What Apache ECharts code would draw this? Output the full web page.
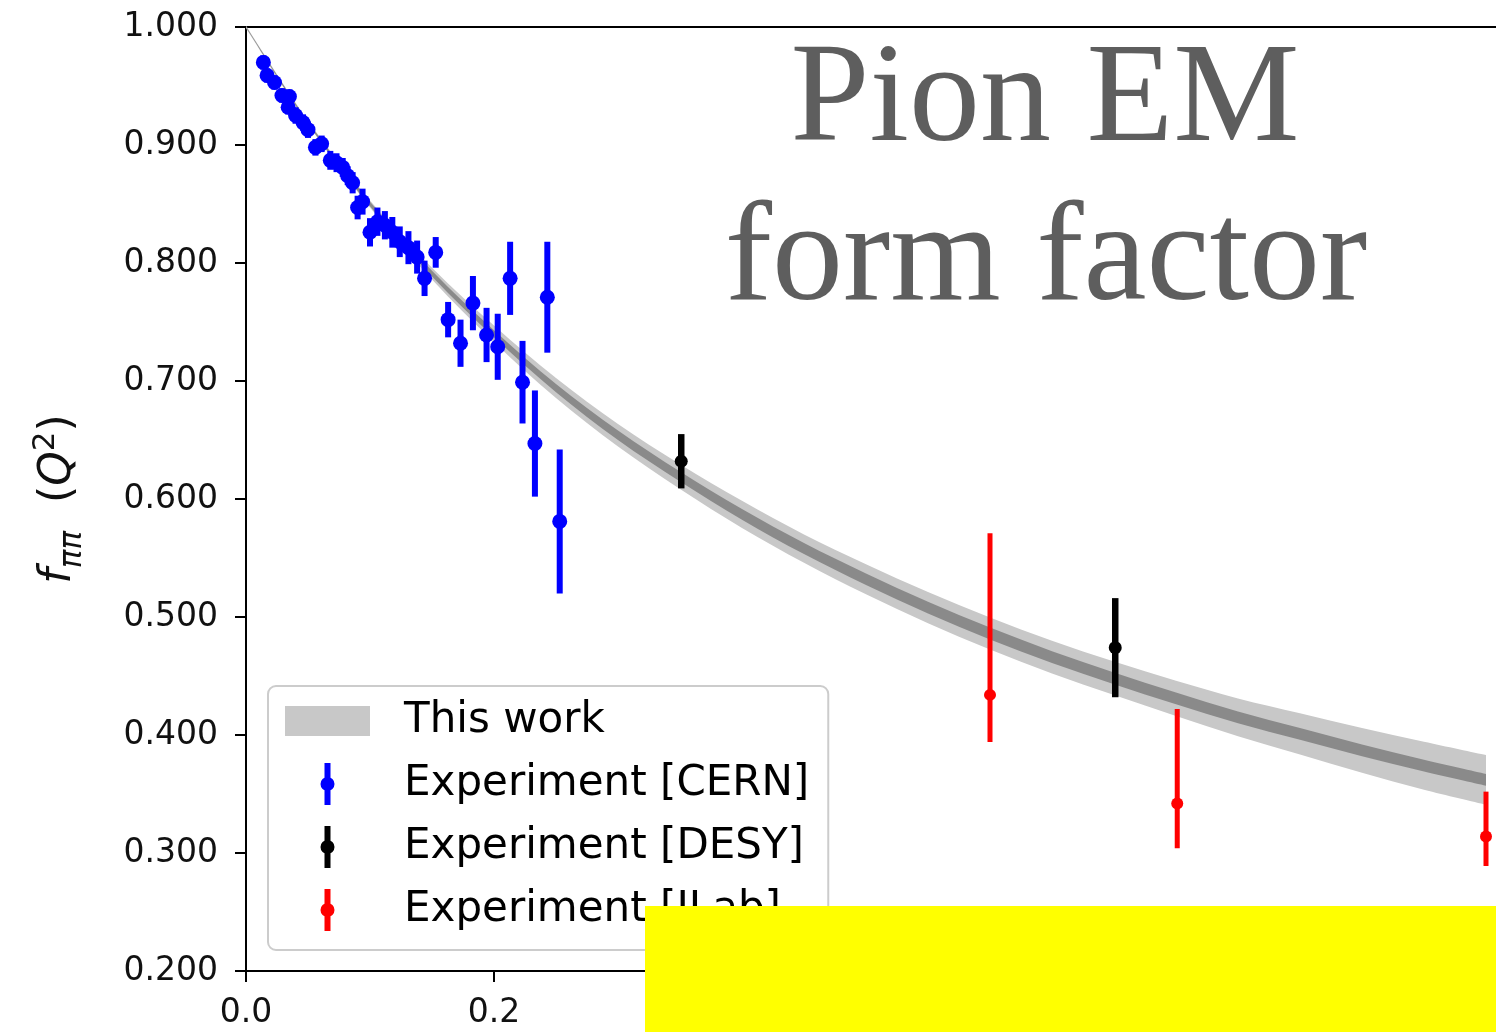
<!DOCTYPE html>
<html><head><meta charset="utf-8">
<script src="https://cdn.jsdelivr.net/npm/echarts@6/dist/echarts.min.js"></script>
<style>html,body{margin:0;padding:0;background:#fff}#chart{width:1496px;height:1032px}</style>
</head><body><div id="chart"></div>
<script>
// ---- Model curve ("This work") ----
const curveQ2 = [0, 0.05, 0.10, 0.15, 0.20, 0.25, 0.30, 0.35, 0.40, 0.45, 0.50, 0.55, 0.60, 0.65, 0.70, 0.75, 0.80, 0.85, 0.90, 0.95, 1.00];
const curveF  = [1.000, 0.919, 0.850, 0.791, 0.740, 0.694, 0.654, 0.619, 0.587, 0.558, 0.532, 0.508, 0.486, 0.466, 0.448, 0.431, 0.415, 0.401, 0.387, 0.374, 0.362];
const outerErr = [0.001, 0.0015, 0.003, 0.005, 0.007, 0.0085, 0.0095, 0.0105, 0.0115, 0.012, 0.0128, 0.0132, 0.0135, 0.0138, 0.0142, 0.015, 0.016, 0.0175, 0.019, 0.0203, 0.021];
const innerErr = [0.0004, 0.001, 0.002, 0.0025, 0.003, 0.0035, 0.004, 0.0042, 0.0045, 0.0047, 0.0049, 0.005, 0.005, 0.005, 0.005, 0.005, 0.005, 0.005, 0.005, 0.005, 0.005];

// ---- Experiment [CERN] ----
const cernQ2 = [0.014,0.017,0.023,0.029,0.035,0.034,0.040,0.046,0.050,0.056,0.061,0.068,0.073,0.078,0.082,0.086,0.090,0.094,0.100,0.106,0.112,0.118,0.124,0.131,0.138,0.144,0.153,0.163,0.173,0.183,0.194,0.203,0.213,0.223,0.233,0.243,0.253];
const cernF  = [0.970,0.959,0.953,0.942,0.941,0.932,0.925,0.919,0.913,0.898,0.901,0.887,0.885,0.881,0.874,0.868,0.847,0.852,0.826,0.835,0.832,0.826,0.818,0.813,0.805,0.787,0.809,0.752,0.732,0.766,0.739,0.729,0.787,0.699,0.647,0.771,0.581];
const cernErr = [0.006,0.006,0.006,0.006,0.006,0.006,0.007,0.007,0.007,0.007,0.007,0.008,0.008,0.008,0.008,0.009,0.010,0.011,0.012,0.012,0.012,0.013,0.013,0.014,0.014,0.015,0.013,0.015,0.020,0.023,0.023,0.028,0.031,0.035,0.045,0.047,0.061];

// ---- Experiment [DESY] ----
const desyQ2 = [0.351, 0.701];
const desyF  = [0.632, 0.474];
const desyErrDown = [0.023, 0.042];
const desyErrUp   = [0.023, 0.042];

// ---- Experiment [JLab] ----
const jlabQ2 = [0.600, 0.751, 1.000];
const jlabF  = [0.434, 0.342, 0.314];
const jlabErrDown = [0.040, 0.038, 0.025];
const jlabErrUp   = [0.137, 0.080, 0.038];

// ---- Axis ticks ----
const yTicks = { min: 0.2, max: 1.0, step: 0.1 };
const xTicks = { min: 0, max: 1.05, step: 0.2 };

const labels = {
  band: 'This work',
  cern: 'Experiment [CERN]',
  desy: 'Experiment [DESY]',
  jlab: 'Experiment [JLab]'
};

// ---------------------------------------------------------------
function ebData(q, f, dn, up) {
  return q.map((x, i) => [x, f[i], f[i] - dn[i], f[i] + up[i]]);
}
function ebRenderer(w, r) {
  return function (params, api) {
    const x = api.value(0), y = api.value(1), lo = api.value(2), hi = api.value(3);
    const c = api.coord([x, y]), cl = api.coord([x, lo]), ch = api.coord([x, hi]);
    const color = api.visual('color');
    return {
      type: 'group',
      children: [
        { type: 'rect', shape: { x: c[0] - w / 2, y: ch[1], width: w, height: cl[1] - ch[1] }, style: { fill: color } },
        { type: 'circle', shape: { cx: c[0], cy: c[1], r: r }, style: { fill: color } }
      ]
    };
  };
}
// band rows: [q, low, high]
const outerRows = curveQ2.map((q, i) => [q, curveF[i] - outerErr[i], curveF[i] + outerErr[i]]);
const innerRows = curveQ2.map((q, i) => [q, curveF[i] - innerErr[i], curveF[i] + innerErr[i]]);

// smooth (Catmull-Rom -> cubic bezier) path through pixel points
function splinePath(pts, start) {
  let d = start ? 'M' + pts[0][0] + ',' + pts[0][1] : 'L' + pts[0][0] + ',' + pts[0][1];
  for (let i = 0; i < pts.length - 1; i++) {
    const p0 = pts[Math.max(i - 1, 0)], p1 = pts[i], p2 = pts[i + 1], p3 = pts[Math.min(i + 2, pts.length - 1)];
    const c1 = [p1[0] + (p2[0] - p0[0]) / 6, p1[1] + (p2[1] - p0[1]) / 6];
    const c2 = [p2[0] - (p3[0] - p1[0]) / 6, p2[1] - (p3[1] - p1[1]) / 6];
    d += 'C' + c1[0] + ',' + c1[1] + ',' + c2[0] + ',' + c2[1] + ',' + p2[0] + ',' + p2[1];
  }
  return d;
}
function bandRenderer(rows) {
  return function (params, api) {
    if (params.dataIndex !== 0) return null;
    const top = rows.map(r => api.coord([r[0], r[2]]));
    const bot = rows.map(r => api.coord([r[0], r[1]])).reverse();
    const d = splinePath(top, true) + splinePath(bot, false) + 'Z';
    return { type: 'path', shape: { pathData: d }, style: { fill: api.visual('color') } };
  };
}

const ebIcon = 'path://M-3,-21L3,-21L3,21L-3,21Z M-7,0A7,7,0,1,1,7,0A7,7,0,1,1,-7,0Z';

const chart = echarts.init(document.getElementById('chart'), null, { renderer: 'canvas' });
chart.setOption({
  animation: false,
  backgroundColor: '#ffffff',
  grid: { left: 246, top: 27, width: 1302, height: 944, outerBoundsMode: 'none', containLabel: false,
          show: true, borderColor: '#000', borderWidth: 2, backgroundColor: 'transparent' },
  xAxis: {
    type: 'value', min: xTicks.min, max: xTicks.max, interval: xTicks.step,
    splitLine: { show: false },
    axisLine: { show: true, onZero: false, lineStyle: { color: '#000', width: 2 } },
    axisTick: { show: true, inside: false, length: 11, lineStyle: { color: '#000', width: 2 } },
    axisLabel: { margin: 26, fontFamily: 'DejaVu Sans', fontSize: 33, color: '#111', formatter: v => v.toFixed(1) }
  },
  yAxis: {
    type: 'value', min: yTicks.min, max: yTicks.max, interval: yTicks.step,
    splitLine: { show: false },
    axisLine: { show: true, onZero: false, lineStyle: { color: '#000', width: 2 } },
    axisTick: { show: true, inside: false, length: 11, lineStyle: { color: '#000', width: 2 } },
    axisLabel: { margin: 28, fontFamily: 'DejaVu Sans', fontSize: 33, color: '#111', formatter: v => v.toFixed(3) },
    name: '{fi|f}{sub|ππ}{n|  (}{fi|Q}{sup|2}{n|)}',
    nameLocation: 'middle', nameRotate: 90, nameGap: 158,
    nameTextStyle: {
      color: '#111',
      rich: {
        fi: { fontFamily: 'DejaVu Sans', fontStyle: 'italic', fontSize: 44, lineHeight: 58, color: '#111' },
        n: { fontFamily: 'DejaVu Sans', fontSize: 44, lineHeight: 58, color: '#111' },
        sub: { fontFamily: 'DejaVu Sans', fontStyle: 'italic', fontSize: 31, lineHeight: 30, verticalAlign: 'bottom', color: '#111' },
        sup: { fontFamily: 'DejaVu Sans', fontSize: 31, lineHeight: 30, verticalAlign: 'top', color: '#111' }
      }
    }
  },
  legend: {
    orient: 'vertical', left: 268, top: 686,
    padding: [14, 19, 19, 17],
    itemGap: 21, itemWidth: 85, itemHeight: 42,
    selectedMode: false,
    backgroundColor: 'rgba(255,255,255,0.85)', borderColor: '#cccccc', borderWidth: 2, borderRadius: 8,
    itemStyle: { borderWidth: 0 },
    formatter: name => '{s|}' + name,
    textStyle: { fontFamily: 'DejaVu Sans', fontSize: 42, lineHeight: 42, color: '#000', rich: { s: { width: 29 } } },
    data: [
      { name: labels.band, icon: 'path://M0,0L85,0L85,30L0,30Z', itemStyle: { color: '#c8c8c8', borderWidth: 0 } },
      { name: labels.cern, icon: ebIcon, itemStyle: { color: '#0000ff', borderWidth: 0 } },
      { name: labels.desy, icon: ebIcon, itemStyle: { color: '#000000', borderWidth: 0 } },
      { name: labels.jlab, icon: ebIcon, itemStyle: { color: '#ff0000', borderWidth: 0 } }
    ]
  },
  graphic: [
    { type: 'text', x: 1045, y: 103, z: 10, silent: true,
      style: { text: 'Pion EM', fontFamily: 'Liberation Serif', fontSize: 142, fill: '#5e5e5e', align: 'center', verticalAlign: 'middle' } },
    { type: 'text', x: 1046, y: 262, z: 10, silent: true,
      style: { text: 'form factor', fontFamily: 'Liberation Serif', fontSize: 142, fill: '#5e5e5e', align: 'center', verticalAlign: 'middle' } },
    { type: 'rect', shape: { x: 645, y: 906, width: 851, height: 126 }, style: { fill: '#ffff00' }, z: 100, silent: true }
  ],
  series: [
    { name: labels.band, type: 'custom', renderItem: bandRenderer(outerRows), data: outerRows,
      encode: { x: 0, y: 1 }, itemStyle: { color: '#c8c8c8' }, silent: true, z: 1 },
    { name: 'innerBand', type: 'custom', renderItem: bandRenderer(innerRows), data: innerRows,
      encode: { x: 0, y: 1 }, itemStyle: { color: '#8a8a8a' }, silent: true, z: 1 },
    { name: labels.cern, type: 'custom', renderItem: ebRenderer(6, 7.5), data: ebData(cernQ2, cernF, cernErr, cernErr),
      encode: { x: 0, y: 1 }, itemStyle: { color: '#0000ff' }, z: 3 },
    { name: labels.desy, type: 'custom', renderItem: ebRenderer(6.5, 6.5), data: ebData(desyQ2, desyF, desyErrDown, desyErrUp),
      encode: { x: 0, y: 1 }, itemStyle: { color: '#000000' }, z: 3 },
    { name: labels.jlab, type: 'custom', renderItem: ebRenderer(5, 6), data: ebData(jlabQ2, jlabF, jlabErrDown, jlabErrUp),
      encode: { x: 0, y: 1 }, itemStyle: { color: '#ff0000' }, z: 3 }
  ]
});
</script>
</body></html>
